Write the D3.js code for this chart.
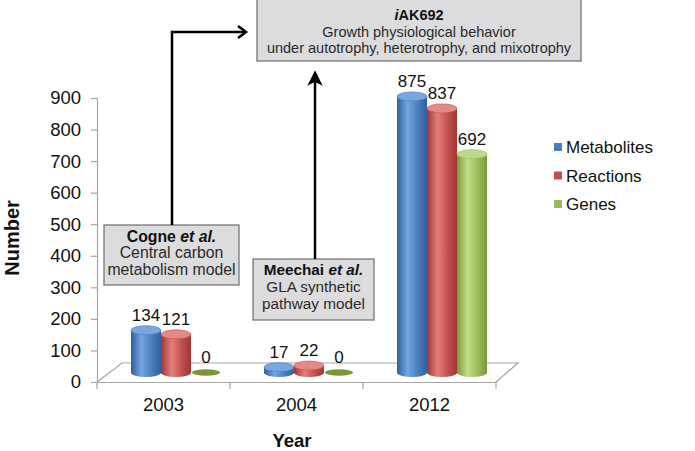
<!DOCTYPE html>
<html><head><meta charset="utf-8">
<script src="https://cdn.jsdelivr.net/npm/d3@7"></script>
<style>
body{margin:0;background:#fff;}
text{font-family:"Liberation Sans",Arial,sans-serif;}
</style></head>
<body><svg id="c" width="695" height="451"></svg>
<script>
const years = ["2003","2004","2012"];
const seriesNames = ["Metabolites","Reactions","Genes"];
const metabolites = [134,17,875];
const reactions = [121,22,837];
const genes = [0,0,692];
const yTicks = [0,100,200,300,400,500,600,700,800,900];
const colors = {Metabolites:["#2f5f9e","#74a4e2","#4a7ebb","#7aa6e0"],
                Reactions:["#a03532","#e47e7b","#c0504d","#e38a87"],
                Genes:["#7a9a3c","#c2de8a","#9bbb59","#bcd88a"]};

const svg = d3.select("#c");
const defs = svg.append("defs");
seriesNames.forEach(s=>{
  const g = defs.append("linearGradient").attr("id","g"+s).attr("x1","0").attr("x2","1").attr("y1","0").attr("y2","0");
  const c = colors[s];
  g.append("stop").attr("offset","0%").attr("stop-color",c[0]);
  g.append("stop").attr("offset","35%").attr("stop-color",c[1]);
  g.append("stop").attr("offset","70%").attr("stop-color",c[2]);
  g.append("stop").attr("offset","100%").attr("stop-color",c[0]);
});

const x0 = 97, x1 = 496, yBase = 382, yTop = 98;
const ddx = 25, ddy = -19; // depth of floor
const x = d3.scaleBand().domain(years).range([x0,x1]);
const y = d3.scaleLinear().domain([0,900]).range([yBase,yTop]);
const inner = d3.scaleBand().domain(seriesNames).range([0,90]);
const data = {Metabolites:metabolites,Reactions:reactions,Genes:genes};

// floor
const floor = svg.append("g").attr("stroke","#a6a6a6").attr("fill","none").attr("stroke-width",1.2);
floor.append("path").attr("d",`M${x0},${yBase}L${x0+ddx},${yBase+ddy}L${x1+ddx-3},${yBase+ddy}L${x1},${yBase}`);

// y axis
const ya = svg.append("g").attr("transform",`translate(${x0},0)`)
  .call(d3.axisLeft(y).tickValues(yTicks).tickSize(6).tickPadding(10));
ya.select(".domain").attr("stroke","#a6a6a6").attr("stroke-width",1.2);
ya.selectAll(".tick line").attr("stroke","#a6a6a6").attr("stroke-width",1.2);
ya.selectAll(".tick text").attr("font-size",18.5).attr("fill","#111").attr("font-family","Liberation Sans, Arial, sans-serif");

// x axis
const xa = svg.append("g").attr("transform",`translate(0,${yBase})`)
  .call(d3.axisBottom(x).tickSize(0).tickPadding(16));
xa.select(".domain").attr("stroke","#a6a6a6").attr("stroke-width",1.2);
xa.selectAll(".tick text").attr("font-size",18.5).attr("fill","#111").attr("font-family","Liberation Sans, Arial, sans-serif");
const bounds = years.map(d=>x(d)).concat([x1]);
svg.append("g").selectAll("line").data(bounds).join("line")
  .attr("x1",d=>d).attr("x2",d=>d).attr("y1",yBase).attr("y2",yBase+7)
  .attr("stroke","#a6a6a6").attr("stroke-width",1.2);

// cylinders
const mdx = ddx/2, mdy = ddy/2;
const ry = 4.5;
const bars = svg.append("g");
years.forEach((yr,i)=>{
  seriesNames.forEach(s=>{
    const v = data[s][i];
    const left = x(yr) + (x.bandwidth()-90)/2 + mdx + inner(s);
    const w = inner.bandwidth();
    const cx = left + w/2, rx = w/2;
    const yb = yBase + mdy, yt = y(v) + mdy;
    const c = colors[s];
    const g = bars.append("g");
    if (v > 0) {
      g.append("path")
        .attr("d",`M${left},${yt}L${left},${yb}A${rx},${ry} 0 0 0 ${left+w},${yb}L${left+w},${yt}Z`)
        .attr("fill",`url(#g${s})`);
      g.append("ellipse").attr("cx",cx).attr("cy",yt).attr("rx",rx).attr("ry",ry)
        .attr("fill",c[3]).attr("stroke",c[2]).attr("stroke-width",0.6);
    } else {
      g.append("ellipse").attr("cx",cx).attr("cy",yb).attr("rx",rx-1).attr("ry",3.2)
        .attr("fill","#76983a");
    }
    svg.append("text").attr("x",cx).attr("y",yt - ry - 5).attr("text-anchor","middle")
      .attr("font-size",17).attr("fill","#111").text(v);
  });
});

// axis titles
svg.append("text").attr("transform","translate(19,238) rotate(-90)").attr("text-anchor","middle")
  .attr("font-size",20).attr("font-weight","bold").attr("fill","#111").text("Number");
svg.append("text").attr("x",292).attr("y",447).attr("text-anchor","middle")
  .attr("font-size",18.5).attr("font-weight","bold").attr("fill","#111").text("Year");

// legend
const lg = svg.append("g");
seriesNames.forEach((s,i)=>{
  const ly = 147 + i*28.5;
  lg.append("rect").attr("x",554).attr("y",ly-4).attr("width",8).attr("height",8).attr("fill",colors[s][2]);
  lg.append("text").attr("x",566).attr("y",ly+6).attr("font-size",17).attr("fill","#111").text(s);
});

// annotation boxes
function box(bx,by,bw,bh,size,lines){
  const g = svg.append("g");
  g.append("rect").attr("x",bx).attr("y",by).attr("width",bw).attr("height",bh)
    .attr("fill","#dcdcde").attr("stroke","#6d6d6d").attr("stroke-width",1.2);
  lines.forEach((ln,i)=>{
    const t = g.append("text").attr("x",bx+bw/2).attr("y",by+ln.dy).attr("text-anchor","middle")
      .attr("font-size",size).attr("fill",ln.fill||"#2a2a2a");
    ln.parts.forEach(p=>t.append("tspan").attr("font-weight",p.b?"bold":"normal").attr("font-style",p.i?"italic":"normal").text(p.t));
  });
}
box(257,-1,324,62,14.5,[
  {dy:21,fill:"#111",parts:[{t:"i",b:1,i:1},{t:"AK692",b:1}]},
  {dy:38,parts:[{t:"Growth physiological behavior"}]},
  {dy:54,parts:[{t:"under autotrophy, heterotrophy,  and mixotrophy"}]}
]);
box(104,225,135,60,15.8,[
  {dy:17,fill:"#111",parts:[{t:"Cogne ",b:1},{t:"et al.",b:1,i:1}]},
  {dy:33,parts:[{t:"Central carbon"}]},
  {dy:50,parts:[{t:"metabolism model"}]}
]);
box(253,259,121,61,15.3,[
  {dy:16,fill:"#111",parts:[{t:"Meechai ",b:1},{t:"et al.",b:1,i:1}]},
  {dy:33,parts:[{t:"GLA synthetic"}]},
  {dy:50,parts:[{t:"pathway  model"}]}
]);

// arrows
svg.append("path").attr("d","M172,225V32H245").attr("fill","none").attr("stroke","#000").attr("stroke-width",2.5);
svg.append("path").attr("d","M238,26L246,32L238,38").attr("fill","none").attr("stroke","#000").attr("stroke-width",2.5);
svg.append("path").attr("d","M315,259V80").attr("fill","none").attr("stroke","#000").attr("stroke-width",2.5);
svg.append("path").attr("d","M315,72L309,84L315,81L321,84Z").attr("fill","#000").attr("stroke","#000").attr("stroke-width",1.5);
</script></body></html>
